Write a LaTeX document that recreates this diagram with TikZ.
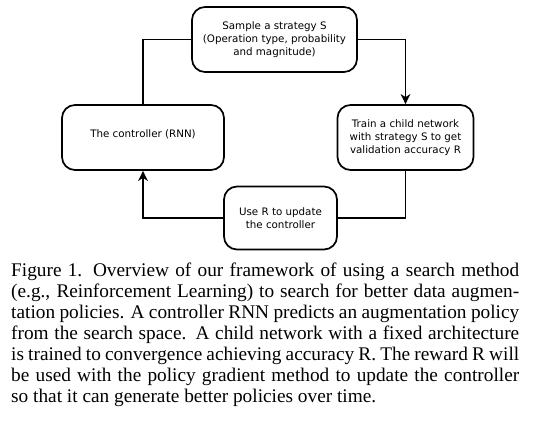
\documentclass[tikz,border=0pt]{standalone}
\usepackage{fontspec}
\setmainfont{Liberation Serif}
\newfontfamily\diagfont{DejaVu Sans}
\usetikzlibrary{arrows.meta}
\begin{document}
\begin{tikzpicture}[x=1pt,y=-1pt,
  box/.style={draw,line width=1.7pt,rounded corners=13pt,align=center,
    font=\diagfont\fontsize{10.3}{13.2}\selectfont,inner sep=0pt},
  conn/.style={line width=1.9pt},
  arr/.style={conn,-{Stealth[length=10pt,width=9.5pt,inset=3pt]}}]
\useasboundingbox (0,0) rectangle (534,428);
\node[box,minimum width=165pt,minimum height=65pt] (sample) at (274.5,39.5)
  {Sample a strategy S\\(Operation type, probability\\and magnitude)};
\node[box,minimum width=162pt,minimum height=65pt,text height=4pt,text depth=4pt] (ctrl) at (143,137.5)
  {The controller (RNN)};
\node[box,minimum width=136pt,minimum height=65pt] (train) at (405.5,137.5)
  {Train a child network\\with strategy S to get\\validation accuracy R};
\node[box,minimum width=113pt,minimum height=63pt] (upd) at (280.5,218)
  {Use R to update\\the controller};
\draw[conn] (ctrl.north) |- (sample.west);
\draw[arr] (sample.east) -| (train.north);
\draw[conn] (train.south) |- (upd.east);
\draw[arr] (upd.west) -| (ctrl.south);
\node[anchor=north west,inner sep=0pt,text width=508pt,align=justify,
  font=\fontsize{19.3}{21}\selectfont] (cap) at (11,262.8)
  {Figure 1. Overview of our framework of using a search method\linebreak
  (e.g., Reinforcement Learning) to search for better data augmen-\linebreak
  tation policies. A controller RNN predicts an augmentation policy\linebreak
  from the search space. A child network with a fixed architecture\linebreak
  is trained to convergence achieving accuracy R. The reward R will\linebreak
  be used with the policy gradient method to update the controller\linebreak
  so that it can generate better policies over time.};
\end{tikzpicture}
\end{document}
